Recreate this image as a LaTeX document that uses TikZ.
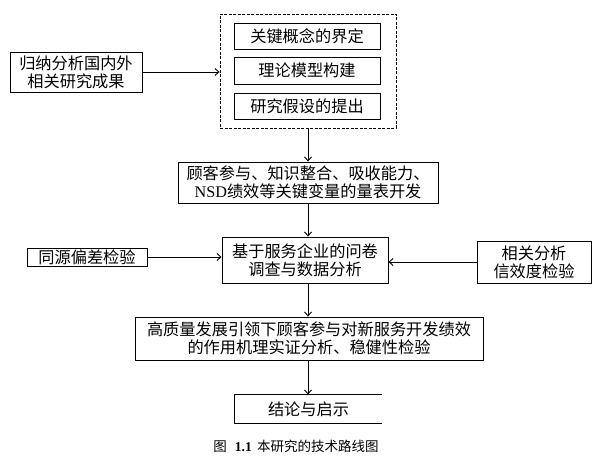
\documentclass[tikz,border=0pt]{standalone}
\usepackage{fontspec}
\setmainfont{Liberation Serif}
\newfontfamily\cjk{Noto Sans CJK SC}
\usetikzlibrary{arrows.meta,calc}
\begin{document}
\begin{tikzpicture}[x=1pt,y=-1pt,
  box/.style={draw,line width=0.9pt,inner sep=0pt,align=center,
    font=\cjk\fontsize{16.2}{18}\selectfont},
  arr/.style={line width=0.9pt,-{Straight Barb[length=4pt,width=7pt]}}]
\useasboundingbox (0,0) rectangle (595,462);
\node[draw,dash pattern=on 3pt off 1.5pt,line width=0.9pt,minimum width=176pt,minimum height=114pt,inner sep=0pt] (dash) at (308,71) {};
\node[box,minimum width=146pt,minimum height=26pt] (b1) at (307,36) {关键概念的界定};
\node[box,minimum width=146pt,minimum height=27pt] (b2) at (307,70.5) {理论模型构建};
\node[box,minimum width=146pt,minimum height=26pt] (b3) at (307,106) {研究假设的提出};
\node[box,minimum width=132pt,minimum height=40pt] (lit) at (76,72) {归纳分析国内外\\相关研究成果};
\node[box,minimum width=260pt,minimum height=41pt] (scale) at (308,182.5) {顾客参与、知识整合、吸收能力、\\{\rmfamily NSD}绩效等关键变量的量表开发};
\node[box,minimum width=166pt,minimum height=46pt] (survey) at (305,260) {基于服务企业的问卷\\调查与数据分析};
\node[box,minimum width=114pt,minimum height=42pt] (corr) at (534,262) {相关分析\\信效度检验};
\node[box,minimum width=120pt,minimum height=18pt] (cmv) at (87,257) {同源偏差检验};
\node[box,minimum width=348pt,minimum height=43pt] (main) at (309,338.5) {高质量发展引领下顾客参与对新服务开发绩效\\的作用机理实证分析、稳健性检验};
\node[box,draw=none,minimum width=147pt,minimum height=28pt] (concl) at (308.5,409) {结论与启示};
\draw[line width=0.9pt] (concl.north east) -- (concl.north west) -- (concl.south west) -- (concl.south east);
\node[font=\cjk\fontsize{13.5}{15}\selectfont] (cap) at (296,446) {图\hspace{0.6em}{\rmfamily\bfseries 1.1}\hspace{0.4em}本研究的技术路线图};
\draw[arr] (lit.east) -- (lit.east -| dash.west);
\draw[arr] (dash.south) -- (scale.north -| dash.south);
\draw[arr] (dash.south |- scale.south) -- (dash.south |- survey.north);
\draw[arr] (cmv.east) -- (cmv.east -| survey.west);
\draw[arr] (corr.west) -- (corr.west -| survey.east);
\draw[arr] (dash.south |- survey.south) -- (dash.south |- main.north);
\draw[arr] (dash.south |- main.south) -- (dash.south |- concl.north);
\end{tikzpicture}
\end{document}
